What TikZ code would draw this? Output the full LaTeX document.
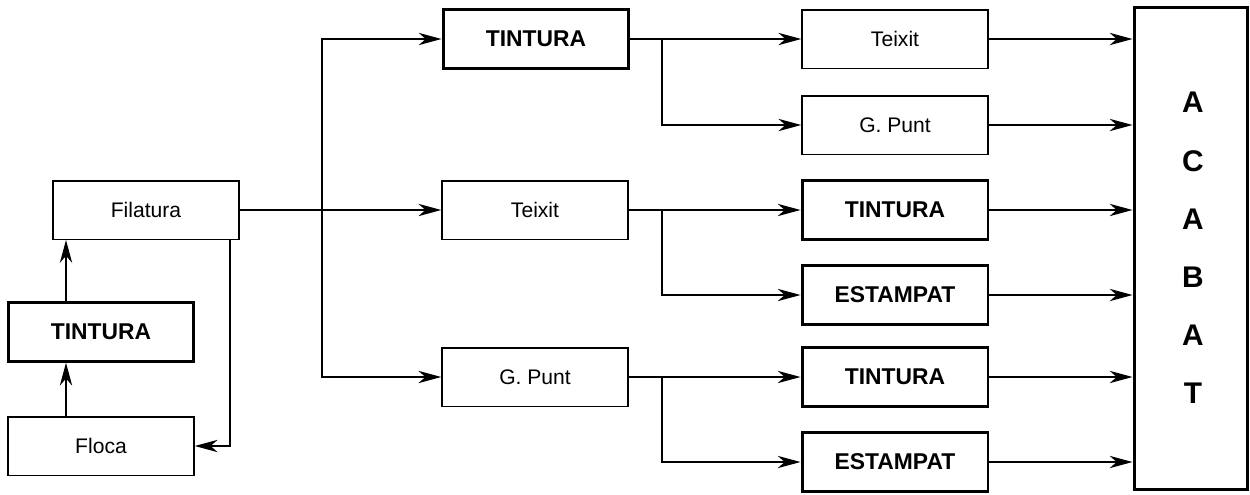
\documentclass[tikz,border=0pt]{standalone}
\usepackage{fontspec}
\setmainfont{Liberation Sans}
\usetikzlibrary{arrows.meta}
\begin{document}
\begin{tikzpicture}[x=0.02cm,y=-0.02cm,
  box/.style={draw,line width=0.85pt,minimum width=3.72cm,minimum height=1.17cm,
    inner sep=0pt,font=\fontsize{12}{14}\selectfont},
  boldbox/.style={box,line width=1.7pt,font=\fontsize{13}{15}\selectfont\bfseries},
  arr/.style={line width=0.85pt,-{Stealth[length=13pt,width=7pt,inset=4pt]}},
  link/.style={line width=0.85pt}]
\useasboundingbox (0,0) rectangle (1250,494);

% raw material chain
\node[box]     (fil)   at (146,210) {Filatura};
\node[boldbox] (tinL)  at (101,332) {TINTURA};
\node[box]     (floca) at (101,446) {Floca};

% second stage
\node[boldbox] (t1)   at (536,39)  {TINTURA};
\node[box]     (teix) at (535,210) {Teixit};
\node[box]     (gp)   at (535,377) {G. Punt};

% third stage
\node[box]     (r1) at (895,39)  {Teixit};
\node[box]     (r2) at (895,125) {G. Punt};
\node[boldbox] (r3) at (895,210) {TINTURA};
\node[boldbox] (r4) at (895,295) {ESTAMPAT};
\node[boldbox] (r5) at (895,377) {TINTURA};
\node[boldbox] (r6) at (895,462) {ESTAMPAT};

% finishing block
\node[draw,line width=1.7pt,minimum width=2.26cm,minimum height=9.66cm,inner sep=0pt]
  (acab) at (1190.5,248.5) {};
\node[font=\fontsize{17}{33.1}\selectfont\bfseries,align=center] (lab) at (1193,248)
  {A\\C\\A\\B\\A\\T};

% helper columns
\coordinate (cu) at (66,0);
\coordinate (fb) at (230,0);
\coordinate (bus) at (322,0);
\coordinate (g) at (662,0);

% left chain
\draw[arr] (cu |- floca.north) -- (cu |- tinL.south);
\draw[arr] (cu |- tinL.north) -- (cu |- fil.south);
\draw[arr] (fb |- fil.south) |- (floca.east);

% distribution bus
\draw[arr] (fil.east) -- (teix.west);
\draw[arr] (bus |- teix.west) |- (t1.west);
\draw[arr] (bus |- teix.west) |- (gp.west);

% branches
\draw[arr] (t1.east) -- (r1.west);
\draw[arr] (g |- t1.east) |- (r2.west);
\draw[arr] (teix.east) -- (r3.west);
\draw[arr] (g |- teix.east) |- (r4.west);
\draw[arr] (gp.east) -- (r5.west);
\draw[arr] (g |- gp.east) |- (r6.west);

% into finishing
\foreach \n in {r1,r2,r3,r4,r5,r6}
  \draw[arr] (\n.east) -- (\n.east -| acab.west);
\end{tikzpicture}
\end{document}
